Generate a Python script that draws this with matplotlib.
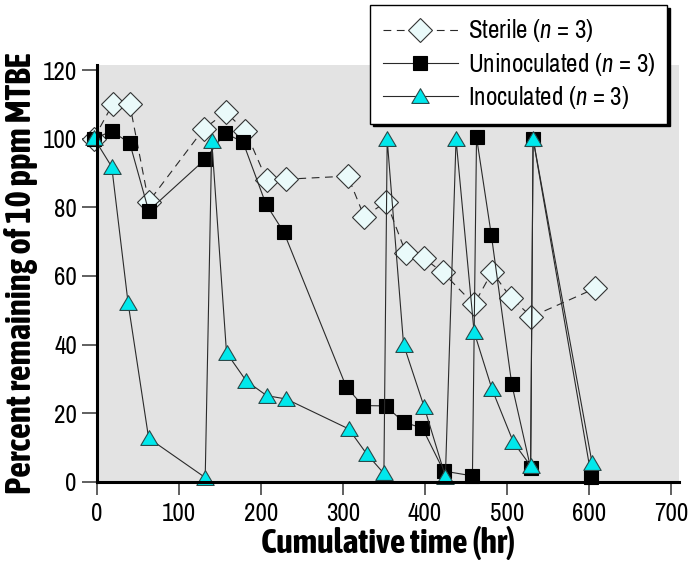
import numpy as np
import matplotlib.pyplot as plt
from matplotlib import font_manager
from matplotlib.path import Path

# the original uses a condensed sans; take a narrow face if one is installed
def weight_num(w):
    if isinstance(w, str):
        return 700 if 'bold' in w.lower() else 400
    return w

ttf = font_manager.fontManager.ttflist
narrow = sorted({f.name for f in ttf if 'Narrow' in f.name or 'Condensed' in f.name})
bold_narrow = [n for n in narrow if any(f.name == n and weight_num(f.weight) >= 700 for f in ttf)]
main_font = narrow[0] if narrow else 'Liberation Sans'
bold_font = bold_narrow[0] if bold_narrow else main_font

plt.rcParams['font.family'] = [main_font, 'DejaVu Sans']
plt.rcParams['mathtext.fontset'] = 'custom'
plt.rcParams['mathtext.rm'] = main_font
plt.rcParams['mathtext.it'] = main_font + ':italic'

# values (time in hr, percent remaining)
sterile_t = [-4, 19, 40, 63, 130, 157, 181, 207, 231, 306, 326, 353, 377, 399, 422, 460, 482, 505, 530, 608]
sterile_v = [100, 110, 110, 81.6, 102.8, 107.7, 102.3, 88, 88.2, 89.1, 77.3, 81.6, 66.6, 65.1, 61, 51.7, 61.2, 53.6, 48.1, 56.4]

unin_t = [-4, 18, 40, 63, 132, 156, 178, 206, 228, 304, 324, 352, 374, 397, 423, 458, 463, 481, 506, 529, 532, 603]
unin_v = [100, 102.2, 98.7, 79, 94, 101.6, 99.1, 81, 72.7, 27.7, 22.2, 22.1, 17.4, 15.6, 3.1, 1.7, 100.4, 72, 28.4, 4, 100, 1.5]

inoc_t = [-4, 18, 38, 63, 132, 140, 158, 182, 207, 231, 307, 329, 350, 354, 374, 399, 425, 438, 460, 482, 508, 529, 532, 604]
inoc_v = [100.3, 91.8, 52, 12.7, 1.2, 99.3, 37.6, 29.4, 25.1, 24.1, 15.4, 8.1, 2.4, 99.8, 40, 21.9, 1.5, 99.8, 43.7, 26.9, 11.5, 4.6, 100, 5.4]

x_ticks = [0, 100, 200, 300, 400, 500, 600, 700]
y_ticks = [0, 20, 40, 60, 80, 100, 120]

# wide, flat triangle like the original symbol
tri = Path([(-1, -0.8), (1, -0.8), (0, 0.9), (-1, -0.8)],
           [Path.MOVETO, Path.LINETO, Path.LINETO, Path.CLOSEPOLY])

fig = plt.figure(figsize=(6.92, 5.66), dpi=100)
ax = fig.add_axes([97 / 692, 1 - 481.7 / 566, (679 - 97) / 692, (481.7 - 65) / 566])
ax.set_facecolor('#e3e3e3')

line_kw = dict(color='#2a2a2a', lw=0.8, clip_on=False)
ax.plot(sterile_t, sterile_v, ls=(0, (7, 5)), marker='D', ms=12,
        mfc='#eafafa', mec='#333333', mew=0.8, label='Sterile ($n$ = 3)', zorder=3, **line_kw)
ax.plot(unin_t, unin_v, ls='-', marker='s', ms=10.5,
        mfc='black', mec='black', mew=0.8, label='Uninoculated ($n$ = 3)', zorder=4, **line_kw)
ax.plot(inoc_t, inoc_v, ls='-', marker=tri, ms=12.5,
        mfc='#00e8ec', mec='#2a4a4a', mew=0.8, label='Inoculated ($n$ = 3)', zorder=5, **line_kw)

ax.set_xlim(0, 710)
ax.set_ylim(0, 121.5)
ax.set_xticks(x_ticks)
ax.set_yticks(y_ticks)
ax.tick_params(axis='both', labelsize=18, color='#444444', width=1.2)
ax.tick_params(axis='y', length=10.5, pad=4)
ax.tick_params(axis='x', length=9.5, pad=5)

for s in ['top', 'right']:
    ax.spines[s].set_visible(False)
for s in ['left', 'bottom']:
    ax.spines[s].set_linewidth(2.2)
    ax.spines[s].set_zorder(6)

ax.set_xlabel('Cumulative time (hr)', fontsize=24.5, fontweight='bold',
              family=[bold_font, 'DejaVu Sans'], labelpad=1)
ax.set_ylabel('Percent remaining of 10 ppm MTBE', fontsize=25, fontweight='bold',
              family=[bold_font, 'DejaVu Sans'], labelpad=3)

leg = fig.legend(loc='upper left', bbox_to_anchor=(370 / 692, 1 - 5 / 566),
                 borderaxespad=0, borderpad=0.5, handlelength=3.0, handletextpad=0.4,
                 labelspacing=0.25, fontsize=18, fancybox=False, framealpha=1,
                 edgecolor='black', shadow={'color': 'black', 'alpha': 1})
leg.get_frame().set_linewidth(1.0)

fig.savefig('out.png', dpi=100)
